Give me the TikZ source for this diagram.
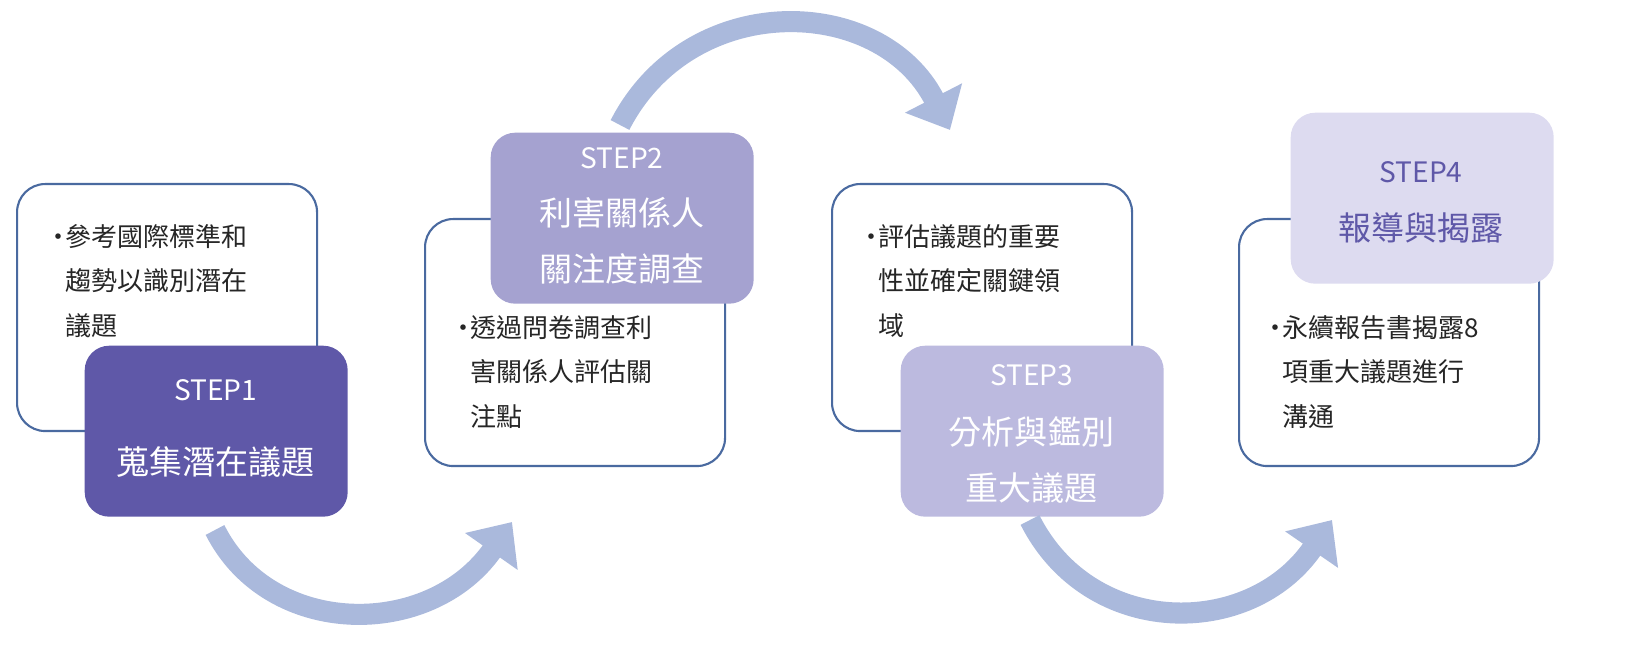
\documentclass[tikz,border=0pt]{standalone}
\usepackage{fontspec}
\setmainfont{Noto Sans CJK TC}
\usetikzlibrary{arrows.meta}
\definecolor{boxline}{RGB}{74,106,160}
\definecolor{stepA}{RGB}{95,88,168}
\definecolor{stepB}{RGB}{165,162,208}
\definecolor{stepC}{RGB}{188,186,223}
\definecolor{stepD}{RGB}{221,219,240}
\definecolor{flow}{RGB}{170,185,220}
\tikzset{
  outline/.style={draw=boxline, line width=0.6pt, fill=white, rounded corners=8pt,
    minimum width=3.0cm, minimum height=2.47cm, anchor=north west},
  stepbox/.style={rounded corners=7pt, minimum width=2.63cm, minimum height=1.71cm,
    anchor=north west, text=white, align=center},
  bullets/.style={anchor=north west, align=left, inner sep=0pt,
    font=\fontsize{7.4}{12.6}\selectfont, text=black!85},
  steptitle/.style={font=\fontsize{8}{10}\selectfont},
  stepname/.style={font=\fontsize{9.4}{16}\selectfont, align=center},
  flowarrow/.style={flow, line width=6pt, -{Triangle[length=0.36cm, width=0.62cm]}}
}
\newcommand\bul{\makebox[0.75em][l]{•}}
\newcommand\ind{\hspace{0.75em}}
\begin{document}
\begin{tikzpicture}
\useasboundingbox (0,0) rectangle (16.36,6.64);

% step 1
\node[outline] (box1) at (0.16,4.81) {};
\node[bullets] (txt1) at (0.45,4.40) {\bul 參考國際標準和\\\ind 趨勢以識別潛在\\\ind 議題};
\node[stepbox, fill=stepA] (step1) at (0.84,3.19) {};
\node[steptitle, text=white] (lab1) at (2.155,2.74) {STEP1};
\node[stepname, text=white] (name1) at (2.155,2.02) {蒐集潛在議題};

% step 2
\node[outline] (box2) at (4.24,4.46) {};
\node[bullets] (txt2) at (4.50,3.49) {\bul 透過問卷調查利\\\ind 害關係人評估關\\\ind 注點};
\node[stepbox, fill=stepB] (step2) at (4.90,5.32) {};
\node[steptitle, text=white] (lab2) at (6.22,5.06) {STEP2};
\node[stepname, text=white] (name2) at (6.22,4.23) {利害關係人\\關注度調查};

% step 3
\node[outline] (box3) at (8.31,4.81) {};
\node[bullets] (txt3) at (8.58,4.40) {\bul 評估議題的重要\\\ind 性並確定關鍵領\\\ind 域};
\node[stepbox, fill=stepC] (step3) at (9.00,3.19) {};
\node[steptitle, text=white] (lab3) at (10.315,2.89) {STEP3};
\node[stepname, text=white] (name3) at (10.315,2.04) {分析與鑑別\\重大議題};

% step 4
\node[outline] (box4) at (12.38,4.46) {};
\node[bullets] (txt4) at (12.62,3.49) {\bul 永續報告書揭露8\\\ind 項重大議題進行\\\ind 溝通};
\node[stepbox, fill=stepD] (step4) at (12.90,5.52) {};
\node[steptitle, text=stepA] (lab4) at (14.21,4.92) {STEP4};
\node[stepname, text=stepA] (name4) at (14.21,4.36) {報導與揭露};

% arrows between steps
\coordinate (a1s) at (2.15,1.34);
\coordinate (a1e) at (5.12,1.42);
\coordinate (a2s) at (6.20,5.39);
\coordinate (a2e) at (9.50,5.34);
\coordinate (a3s) at (10.30,1.44);
\coordinate (a3e) at (13.32,1.44);
\draw[flowarrow] (a1s) .. controls (2.7,0.25) and (4.3,0.25) .. (a1e);
\draw[flowarrow] (a2s) .. controls (6.9,6.75) and (8.8,6.7) .. (a2e);
\draw[flowarrow] (a3s) .. controls (10.9,0.25) and (12.5,0.25) .. (a3e);
\end{tikzpicture}
\end{document}
